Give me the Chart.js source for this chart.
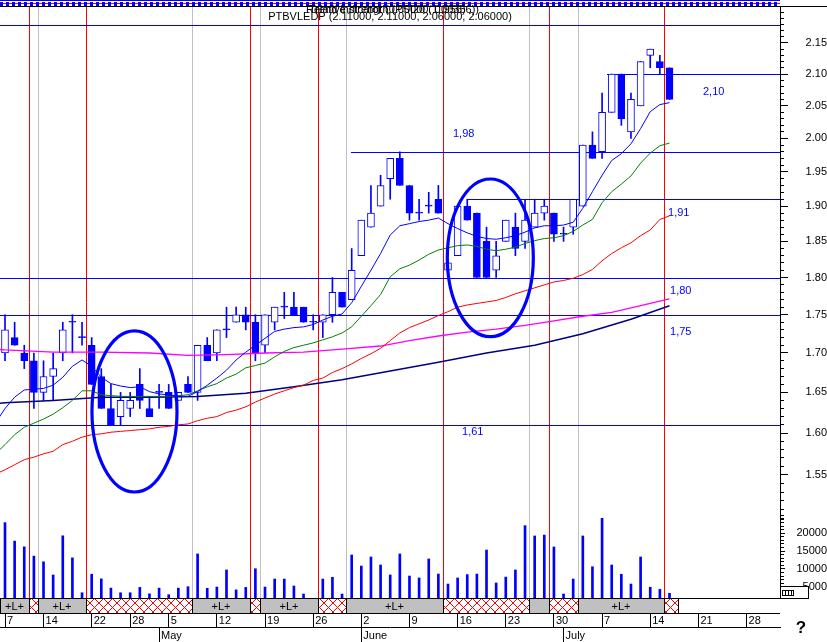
<!DOCTYPE html>
<html>
<head>
<meta charset="utf-8">
<title>PTBVLEDP</title>
<script src="https://cdn.jsdelivr.net/npm/chart.js@4.4.1/dist/chart.umd.min.js"></script>
<style>
  html, body { margin: 0; padding: 0; background: #ffffff; }
  #wrap { position: relative; width: 827px; height: 642px; overflow: hidden; background: #ffffff; }
  #wrap canvas { position: absolute; left: 0; top: 0; }
</style>
</head>
<body>
<div id="wrap">
  <canvas id="priceCanvas" width="827" height="642"></canvas>
  <canvas id="volumeCanvas" width="827" height="642"></canvas>
</div>
<script>
// ------------------------------------------------------------------
// DATA
// ------------------------------------------------------------------
const tradingDays = [
  '2003-04-07','2003-04-08','2003-04-09','2003-04-10','2003-04-11',
  '2003-04-14','2003-04-15','2003-04-16','2003-04-17',
  '2003-04-22','2003-04-23','2003-04-24','2003-04-25',
  '2003-04-28','2003-04-29','2003-04-30','2003-05-02',
  '2003-05-05','2003-05-06','2003-05-07','2003-05-08','2003-05-09',
  '2003-05-12','2003-05-13','2003-05-14','2003-05-15','2003-05-16',
  '2003-05-19','2003-05-20','2003-05-21','2003-05-22','2003-05-23',
  '2003-05-26','2003-05-27','2003-05-28','2003-05-29','2003-05-30',
  '2003-06-02','2003-06-03','2003-06-04','2003-06-05','2003-06-06',
  '2003-06-09','2003-06-10','2003-06-11','2003-06-12','2003-06-13',
  '2003-06-16','2003-06-17','2003-06-18','2003-06-19','2003-06-20',
  '2003-06-23','2003-06-24','2003-06-25','2003-06-26','2003-06-27',
  '2003-06-30','2003-07-01','2003-07-02','2003-07-03','2003-07-04',
  '2003-07-07','2003-07-08','2003-07-09','2003-07-10','2003-07-11',
  '2003-07-14','2003-07-15','2003-07-16'
];

const openPrices = [
  1.70,1.72,1.70,1.69,1.65,1.67,1.70,1.74,1.72,1.71,
  1.67,1.63,1.62,1.63,1.66,1.63,1.65,1.65,1.64,1.66,
  1.65,1.71,1.70,1.73,1.74,1.75,1.74,1.71,1.74,1.76,
  1.76,1.76,1.74,1.74,1.75,1.78,1.77,1.83,1.87,1.90,
  1.94,1.97,1.93,1.89,1.90,1.91,1.81,1.83,1.90,1.89,
  1.85,1.81,1.85,1.87,1.85,1.87,1.89,1.89,1.86,1.87,
  1.90,1.99,1.98,2.04,2.10,2.01,2.05,2.13,2.12,2.11
];
const highPrices = [
  1.75,1.74,1.71,1.70,1.69,1.70,1.74,1.75,1.74,1.72,
  1.68,1.66,1.65,1.65,1.68,1.645,1.66,1.66,1.65,1.67,
  1.71,1.72,1.73,1.76,1.76,1.76,1.75,1.75,1.76,1.78,
  1.78,1.76,1.75,1.75,1.80,1.78,1.84,1.88,1.93,1.945,
  1.97,1.98,1.93,1.91,1.92,1.93,1.82,1.90,1.91,1.89,
  1.87,1.85,1.88,1.89,1.91,1.91,1.91,1.89,1.87,1.91,
  1.99,2.01,2.07,2.10,2.10,2.07,2.12,2.14,2.13,2.11
];
const lowPrices = [
  1.69,1.71,1.68,1.63,1.64,1.64,1.69,1.70,1.71,1.66,
  1.63,1.61,1.61,1.62,1.63,1.62,1.63,1.63,1.64,1.65,
  1.64,1.69,1.69,1.72,1.74,1.73,1.69,1.70,1.73,1.745,
  1.75,1.74,1.73,1.72,1.74,1.76,1.77,1.83,1.87,1.90,
  1.91,1.93,1.88,1.88,1.89,1.89,1.81,1.83,1.88,1.80,
  1.80,1.80,1.85,1.83,1.84,1.87,1.88,1.85,1.85,1.86,
  1.90,1.97,1.97,2.04,2.02,2.00,2.05,2.11,2.10,2.06
];
const closePrices = [
  1.73,1.71,1.69,1.65,1.67,1.68,1.73,1.74,1.72,1.66,
  1.63,1.61,1.64,1.64,1.64,1.62,1.65,1.63,1.65,1.65,
  1.71,1.69,1.73,1.73,1.75,1.74,1.70,1.75,1.76,1.76,
  1.75,1.74,1.74,1.75,1.78,1.76,1.81,1.88,1.89,1.93,
  1.97,1.93,1.89,1.89,1.90,1.89,1.82,1.90,1.88,1.80,
  1.80,1.83,1.88,1.84,1.88,1.89,1.90,1.86,1.86,1.91,
  1.99,1.97,2.04,2.10,2.03,2.06,2.12,2.14,2.11,2.06
];
const volumes = [
  23000,17800,16200,13600,12000,8300,19300,13100,3300,8500,
  7200,4600,3300,3300,4800,3000,4600,2750,4600,5000,
  14200,4550,4900,9700,4100,4800,10050,4900,7150,7150,
  5200,2950,1000,7150,7650,2950,13900,10800,13350,11100,
  8300,14200,8000,7450,12800,8550,5750,7450,8400,8550,
  15300,6050,7700,9700,22150,19250,19500,16150,2950,7150,
  19250,10600,24200,11100,8500,5750,13350,4850,4250,3150
];

// moving averages: first value is the session just before the first visible one
const maShort = [ // blue
  1.612,
  1.630,1.644,1.653,1.654,1.655,1.659,1.669,1.683,1.691,1.683,
  1.669,1.661,1.658,1.656,1.657,1.651,1.648,1.647,1.645,1.645,
  1.651,1.659,1.668,1.678,1.691,1.701,1.710,1.719,1.728,1.731,
  1.733,1.734,1.737,1.743,1.748,1.751,1.766,1.788,1.810,1.833,
  1.859,1.872,1.875,1.878,1.880,1.883,1.875,1.868,1.862,1.857,
  1.854,1.853,1.855,1.858,1.863,1.869,1.872,1.872,1.873,1.877,
  1.897,1.921,1.945,1.967,1.977,1.992,2.015,2.041,2.052,2.055
];
const maMedium = [ // green
  1.575,
  1.586,1.598,1.607,1.612,1.617,1.623,1.631,1.640,1.652,1.652,
  1.647,1.646,1.645,1.645,1.645,1.645,1.645,1.645,1.646,1.647,
  1.652,1.657,1.661,1.668,1.673,1.681,1.684,1.687,1.695,1.702,
  1.707,1.710,1.713,1.717,1.721,1.726,1.734,1.748,1.762,1.777,
  1.801,1.812,1.817,1.824,1.832,1.838,1.841,1.844,1.845,1.843,
  1.839,1.837,1.839,1.842,1.847,1.851,1.854,1.855,1.858,1.864,
  1.873,1.881,1.905,1.921,1.932,1.944,1.963,1.978,1.989,1.993
];
const maLong = [ // red
  1.551,
  1.556,1.562,1.568,1.571,1.575,1.578,1.586,1.590,1.595,1.598,
  1.599,1.601,1.602,1.603,1.604,1.605,1.607,1.608,1.610,1.611,
  1.615,1.618,1.620,1.625,1.628,1.632,1.638,1.643,1.648,1.652,
  1.656,1.659,1.665,1.668,1.675,1.680,1.686,1.693,1.699,1.706,
  1.716,1.726,1.733,1.738,1.743,1.749,1.754,1.760,1.763,1.765,
  1.767,1.769,1.773,1.778,1.782,1.786,1.790,1.794,1.796,1.799,
  1.804,1.811,1.823,1.833,1.841,1.848,1.858,1.866,1.881,1.886
];
const maVeryLongSessions = [-1,0,5,10,15,19,23,27,31,35,39,42,45,48,51,54,57,60,63,66,69];
const maVeryLong = [ // magenta
  1.705,1.704,1.701,1.701,1.700,1.697,1.698,1.700,1.701,1.705,1.709,
  1.716,1.722,1.727,1.731,1.736,1.742,1.748,1.753,1.762,1.771
];
const maTrendSessions = [-1,0,5,10,15,20,25,30,35,40,45,50,55,60,65,69];
const maTrend = [ // navy
  1.636,1.637,1.640,1.644,1.644,1.645,1.649,1.657,1.666,1.677,1.688,
  1.700,1.710,1.725,1.744,1.762
];

// axis ticks
const weekTickSessions = [0,4,9,13,17,22,27,32,37,42,47,52,57,62,67,72,77];
const weekTickLabels = ['7','14','22','28','5','12','19','26','2','9','16','23','30','7','14','21','28'];
const monthTickSessions = [16,37,58];
const monthTickLabels = ['May','June','July'];
const priceTickValues = [2.15,2.10,2.05,2.00,1.95,1.90,1.85,1.80,1.75,1.70,1.65,1.60,1.55];
const priceTickLabels = ['2.15','2.10','2.05','2.00','1.95','1.90','1.85','1.80','1.75','1.70','1.65','1.60','1.55'];
const volumeTickValues = [20000,15000,10000,5000];
const volumeTickLabels = ['20000','15000','10000','5000'];

// support / resistance levels
const levelPrices = [2.18, 2.10, 1.98, 1.91, 1.80, 1.75, 1.61];
const levelFromSession = [null, 62.5, 35.9, 48.0, null, null, null];
const levelLabels = ['', '2,10', '1,98', '1,91', '1,80', '1,75', '1,61'];

// signal band (session boundaries) and signal lines
const bandFrom  = [-0.52, 2.45, 3.45, 8.45, 19.45, 25.45, 26.45, 32.45, 35.45, 45.45, 54.45, 56.45, 59.45, 68.45];
const bandTo    = [ 2.45, 3.45, 8.45, 19.45, 25.45, 26.45, 32.45, 35.45, 45.45, 54.45, 56.45, 59.45, 68.45, 69.9];
const bandState = ['L','X','L','X','L','X','L','X','L','X','N','X','L','X'];
const signalRedSessions  = [2.45, 8.45, 25.45, 32.45, 45.45, 56.45, 68.45];
const signalGreySessions = [3.45, 19.45, 26.45, 35.45, 54.45, 59.45];

// hand-drawn ellipses (session span and price span)
const ellipseFrom   = [9.03, 45.93];
const ellipseTo     = [17.86, 54.86];
const ellipseHigh   = [1.7286, 1.9395];
const ellipseLow    = [1.5301, 1.7211];

const titleText = 'PTBVLEDP (2.11000, 2.11000, 2.06000, 2.06000)';
const overlayTexts = ['Relative strength (PSI20 (1.00356))', 'Trend indicator (0.00000, 0.956)'];

// ------------------------------------------------------------------
// LAYOUT / STYLE
// ------------------------------------------------------------------
const FONT = "'Liberation Sans', Arial, Helvetica, sans-serif";
const BLUE = '#0000ff';
const X_MIN = -0.5192, X_MAX = 80.475;
const P_MIN = 1.41201, P_MAX = 2.20944;
const V_MIN = 1826, V_MAX = 167837;

const labelLayout = [ // session of left text edge and pixel offset from the level line
  null,
  {s: 72.48, dy: 17.5},
  {s: 46.52, dy: -17.5},
  {s: 68.85, dy: 13.5},
  {s: 69.06, dy: 13.5},
  {s: 69.06, dy: 17.5},
  {s: 47.46, dy: 7.5}
];

Chart.defaults.font.family = FONT;
Chart.defaults.font.size = 11;
Chart.defaults.color = '#000';

const sessionIdx = tradingDays.map((d, i) => i);

// ------------------------------------------------------------------
// PRICE CHART
// ------------------------------------------------------------------
const priceDecor = {
  id: 'priceDecor',
  beforeDatasetsDraw(chart) {
    const {ctx, chartArea: a} = chart;
    const xs = chart.scales.x, ys = chart.scales.y;
    ctx.save();
    ctx.lineWidth = 1;
    const vline = (s, color) => {
      const x = Math.round(xs.getPixelForValue(s)) + 0.5;
      ctx.strokeStyle = color;
      ctx.beginPath(); ctx.moveTo(x, a.top); ctx.lineTo(x, a.bottom); ctx.stroke();
    };
    signalGreySessions.forEach(s => vline(s, '#c0c0c0'));
    signalRedSessions.forEach(s => vline(s, '#ff0000'));
    ctx.strokeStyle = BLUE;
    levelPrices.forEach((p, k) => {
      const y = Math.round(ys.getPixelForValue(p)) + 0.5;
      const x0 = levelFromSession[k] === null ? a.left : Math.round(xs.getPixelForValue(levelFromSession[k]));
      ctx.beginPath(); ctx.moveTo(x0, y); ctx.lineTo(a.right, y); ctx.stroke();
    });
    ctx.restore();
  },
  afterDatasetsDraw(chart) {
    const {ctx} = chart;
    const xs = chart.scales.x, ys = chart.scales.y;
    ctx.save();
    ctx.strokeStyle = BLUE;
    ctx.lineWidth = 3.2;
    ellipseFrom.forEach((s0, k) => {
      const x0 = xs.getPixelForValue(s0), x1 = xs.getPixelForValue(ellipseTo[k]);
      const y0 = ys.getPixelForValue(ellipseHigh[k]), y1 = ys.getPixelForValue(ellipseLow[k]);
      ctx.beginPath();
      ctx.ellipse((x0 + x1) / 2, (y0 + y1) / 2, (x1 - x0) / 2, (y1 - y0) / 2, 0, 0, Math.PI * 2);
      ctx.stroke();
    });
    ctx.fillStyle = BLUE;
    ctx.font = '11px ' + FONT;
    ctx.textBaseline = 'middle';
    ctx.textAlign = 'left';
    levelLabels.forEach((t, k) => {
      if (!t) return;
      const L = labelLayout[k];
      ctx.fillText(t, xs.getPixelForValue(L.s), ys.getPixelForValue(levelPrices[k]) + L.dy);
    });
    ctx.restore();
  },
  afterDraw(chart) {
    const {ctx, chartArea: a} = chart;
    ctx.save();
    // top indicator strip
    ctx.fillStyle = '#fff';
    ctx.fillRect(0, 0, a.right, 6);
    ctx.fillStyle = BLUE;
    ctx.fillRect(0, 0, a.right, 1);
    for (let x = 0; x < a.right; x += 6) ctx.fillRect(x, 2, 3, 4);
    ctx.fillStyle = '#ff0000';
    for (let x = 3; x < a.right; x += 6) ctx.fillRect(x, 3, 3, 1);
    ctx.strokeStyle = '#000'; ctx.lineWidth = 1;
    ctx.beginPath(); ctx.moveTo(0, 6.5); ctx.lineTo(827, 6.5); ctx.stroke();
    // titles
    ctx.fillStyle = '#000';
    ctx.font = '11px ' + FONT;
    ctx.textBaseline = 'middle';
    ctx.textAlign = 'left';
    ctx.fillText(overlayTexts[0], 306, 10);
    ctx.fillText(overlayTexts[1], 309, 10);
    ctx.textAlign = 'center';
    ctx.fillText(titleText, (a.left + a.right) / 2, 17);
    ctx.restore();
  }
};

const priceChart = new Chart(document.getElementById('priceCanvas'), {
  type: 'bar',
  data: {
    datasets: [
      {
        type: 'line', label: 'MA short', order: 1,
        data: maShort.map((v, k) => ({x: k - 1, y: v})),
        borderColor: BLUE, borderWidth: 1, pointRadius: 0, tension: 0, fill: false
      },
      {
        type: 'line', label: 'MA medium', order: 1,
        data: maMedium.map((v, k) => ({x: k - 1, y: v})),
        borderColor: '#008000', borderWidth: 1, pointRadius: 0, tension: 0, fill: false
      },
      {
        type: 'line', label: 'MA long', order: 1,
        data: maLong.map((v, k) => ({x: k - 1, y: v})),
        borderColor: '#ff0000', borderWidth: 1, pointRadius: 0, tension: 0, fill: false
      },
      {
        type: 'line', label: 'MA very long', order: 1,
        data: maVeryLong.map((v, k) => ({x: maVeryLongSessions[k], y: v})),
        borderColor: '#ff00ff', borderWidth: 1.3, pointRadius: 0, tension: 0, fill: false
      },
      {
        type: 'line', label: 'MA trend', order: 1,
        data: maTrend.map((v, k) => ({x: maTrendSessions[k], y: v})),
        borderColor: '#000080', borderWidth: 1.5, pointRadius: 0, tension: 0, fill: false
      },
      {
        type: 'bar', label: 'body', order: 4, grouped: false,
        data: sessionIdx.map(i => ({x: i, y: [openPrices[i], closePrices[i]]})),
        barThickness: 7, minBarLength: 1,
        borderWidth: 1, borderSkipped: false, borderColor: BLUE,
        backgroundColor: c => {
          const i = c.dataIndex;
          return closePrices[i] > openPrices[i] ? '#ffffff' : BLUE;
        }
      },
      {
        type: 'bar', label: 'range', order: 5, grouped: false,
        data: sessionIdx.map(i => ({x: i, y: [lowPrices[i], highPrices[i]]})),
        barThickness: 1, borderWidth: 0, backgroundColor: BLUE
      }
    ]
  },
  options: {
    responsive: false, animation: false, events: [],
    layout: {padding: {top: 7, bottom: 44, left: 0, right: 0}},
    plugins: {legend: {display: false}, tooltip: {enabled: false}, title: {display: false}},
    scales: {
      x: {type: 'linear', min: X_MIN, max: X_MAX, bounds: 'data', offset: false, display: false},
      y: {
        type: 'logarithmic', position: 'right', min: P_MIN, max: P_MAX, bounds: 'data',
        border: {display: true, color: '#000'},
        grid: {
          drawOnChartArea: false, tickLength: 8, color: '#000',
          tickBorderDash: c => (c.index >= priceTickValues.length ? [3, 40] : [])
        },
        ticks: {
          autoSkip: false, padding: 12, crossAlign: 'far', color: '#000',
          font: {family: FONT, size: 11},
          callback: (v, i) => (i < priceTickLabels.length ? priceTickLabels[i] : '')
        },
        afterBuildTicks: s => {
          const t = priceTickValues.map(v => ({value: v}));
          for (let c = 150; c <= 220; c++) {
            if (c % 5 === 0 && c >= 155 && c <= 215) continue;
            t.push({value: c / 100});
          }
          s.ticks = t;
        },
        afterFit: s => { s.width = 47; s.paddingTop = 0; s.paddingBottom = 0; }
      }
    }
  },
  plugins: [priceDecor]
});

// ------------------------------------------------------------------
// VOLUME CHART + DATE AXIS + SIGNAL BAND
// ------------------------------------------------------------------
const hatchTile = (() => {
  const c = document.createElement('canvas');
  c.width = 9; c.height = 9;
  const g = c.getContext('2d');
  g.fillStyle = '#ffffff'; g.fillRect(0, 0, 9, 9);
  g.fillStyle = '#ff0000';
  for (let k = 0; k < 9; k++) { g.fillRect(k, k, 1, 1); g.fillRect(8 - k, k, 1, 1); }
  return c;
})();

const volDecor = {
  id: 'volDecor',
  afterDraw(chart) {
    const {ctx, chartArea: a} = chart;
    const xs = chart.scales.x;
    const top = a.bottom;
    ctx.save();
    ctx.fillStyle = '#ffffff';
    ctx.fillRect(a.left, top + 1, a.right - a.left, 14);
    const pat = ctx.createPattern(hatchTile, 'repeat');
    ctx.lineWidth = 1;
    bandFrom.forEach((s0, k) => {
      const x0 = Math.max(a.left, Math.round(xs.getPixelForValue(s0)));
      const x1 = Math.round(xs.getPixelForValue(bandTo[k]));
      ctx.fillStyle = bandState[k] === 'X' ? pat : '#c0c0c0';
      ctx.fillRect(x0, top + 1, x1 - x0, 14);
      if (bandState[k] === 'L') {
        ctx.fillStyle = '#000';
        ctx.font = '11px ' + FONT;
        ctx.textAlign = 'center';
        ctx.textBaseline = 'middle';
        ctx.fillText('+L+', (x0 + x1) / 2, top + 8.5);
      }
      ctx.strokeStyle = '#000';
      ctx.beginPath();
      ctx.moveTo(x0 + 0.5, top + 1); ctx.lineTo(x0 + 0.5, top + 15);
      ctx.moveTo(x1 + 0.5, top + 1); ctx.lineTo(x1 + 0.5, top + 15);
      ctx.stroke();
    });
    ctx.strokeStyle = '#000';
    ctx.beginPath(); ctx.moveTo(a.left, top + 15.5); ctx.lineTo(a.right, top + 15.5); ctx.stroke();
    // small widget box and help mark
    ctx.fillStyle = '#ffffff';
    ctx.fillRect(781, 587, 27, 11);
    ctx.strokeRect(780.5, 586.5, 28, 12);
    ctx.strokeRect(782.5, 590.5, 11, 5);
    ctx.beginPath();
    ctx.moveTo(785.5, 590); ctx.lineTo(785.5, 596);
    ctx.moveTo(788.5, 590); ctx.lineTo(788.5, 596);
    ctx.moveTo(791.5, 590); ctx.lineTo(791.5, 596);
    ctx.stroke();
    ctx.fillStyle = '#000';
    ctx.font = 'bold 17px ' + FONT;
    ctx.textAlign = 'center';
    ctx.textBaseline = 'middle';
    ctx.fillText('?', 801, 628);
    ctx.restore();
  }
};

const volumeChart = new Chart(document.getElementById('volumeCanvas'), {
  type: 'bar',
  data: {
    datasets: [{
      label: 'Volume', grouped: false,
      data: sessionIdx.map(i => ({x: i, y: volumes[i]})),
      barThickness: 2, backgroundColor: BLUE, borderWidth: 0
    }]
  },
  options: {
    responsive: false, animation: false, events: [],
    layout: {padding: {top: 7, bottom: 0, left: 0, right: 0}},
    plugins: {legend: {display: false}, tooltip: {enabled: false}, title: {display: false}},
    scales: {
      x: {
        type: 'linear', position: 'bottom', weight: 0, min: X_MIN, max: X_MAX, bounds: 'data', offset: false,
        border: {display: true, color: '#000'},
        grid: {drawOnChartArea: false, tickLength: 29, color: '#000', offset: false},
        ticks: {
          autoSkip: false, maxRotation: 0, minRotation: 0, align: 'start', labelOffset: 2, padding: -12.6,
          color: '#000', font: {family: FONT, size: 11},
          callback: (v, i) => weekTickLabels[i]
        },
        afterBuildTicks: s => { s.ticks = weekTickSessions.map(v => ({value: v})); },
        afterFit: s => { s.height = 29; s.paddingLeft = 0; s.paddingRight = 0; }
      },
      months: {
        type: 'linear', position: 'bottom', weight: 1, min: X_MIN, max: X_MAX, bounds: 'data', offset: false,
        border: {display: true, color: '#000'},
        grid: {drawOnChartArea: false, tickLength: 15, color: '#000', offset: false},
        ticks: {
          autoSkip: false, maxRotation: 0, minRotation: 0, align: 'start', labelOffset: 2, padding: -12.6,
          color: '#000', font: {family: FONT, size: 11},
          callback: (v, i) => monthTickLabels[i]
        },
        afterBuildTicks: s => { s.ticks = monthTickSessions.map(v => ({value: v})); },
        afterFit: s => { s.height = 15; s.paddingLeft = 0; s.paddingRight = 0; }
      },
      y: {
        type: 'linear', position: 'right', min: V_MIN, max: V_MAX, bounds: 'data',
        border: {display: true, color: '#000'},
        grid: {
          drawOnChartArea: false, tickLength: 5, color: '#000',
          tickBorderDash: c => (c.index >= volumeTickValues.length ? [3, 40] : [])
        },
        ticks: {
          autoSkip: false, padding: 6, crossAlign: 'far', color: '#000',
          font: {family: FONT, size: 11},
          callback: (v, i) => (i < volumeTickLabels.length ? volumeTickLabels[i] : '')
        },
        afterBuildTicks: s => {
          const t = volumeTickValues.map(v => ({value: v}));
          for (let v = 2000; v <= 25000; v += 1000) {
            if (v % 5000 === 0 && v <= 20000) continue;
            t.push({value: v});
          }
          s.ticks = t;
        },
        afterFit: s => { s.width = 47; s.paddingTop = 0; s.paddingBottom = 0; }
      }
    }
  },
  plugins: [volDecor]
});
</script>
</body>
</html>
